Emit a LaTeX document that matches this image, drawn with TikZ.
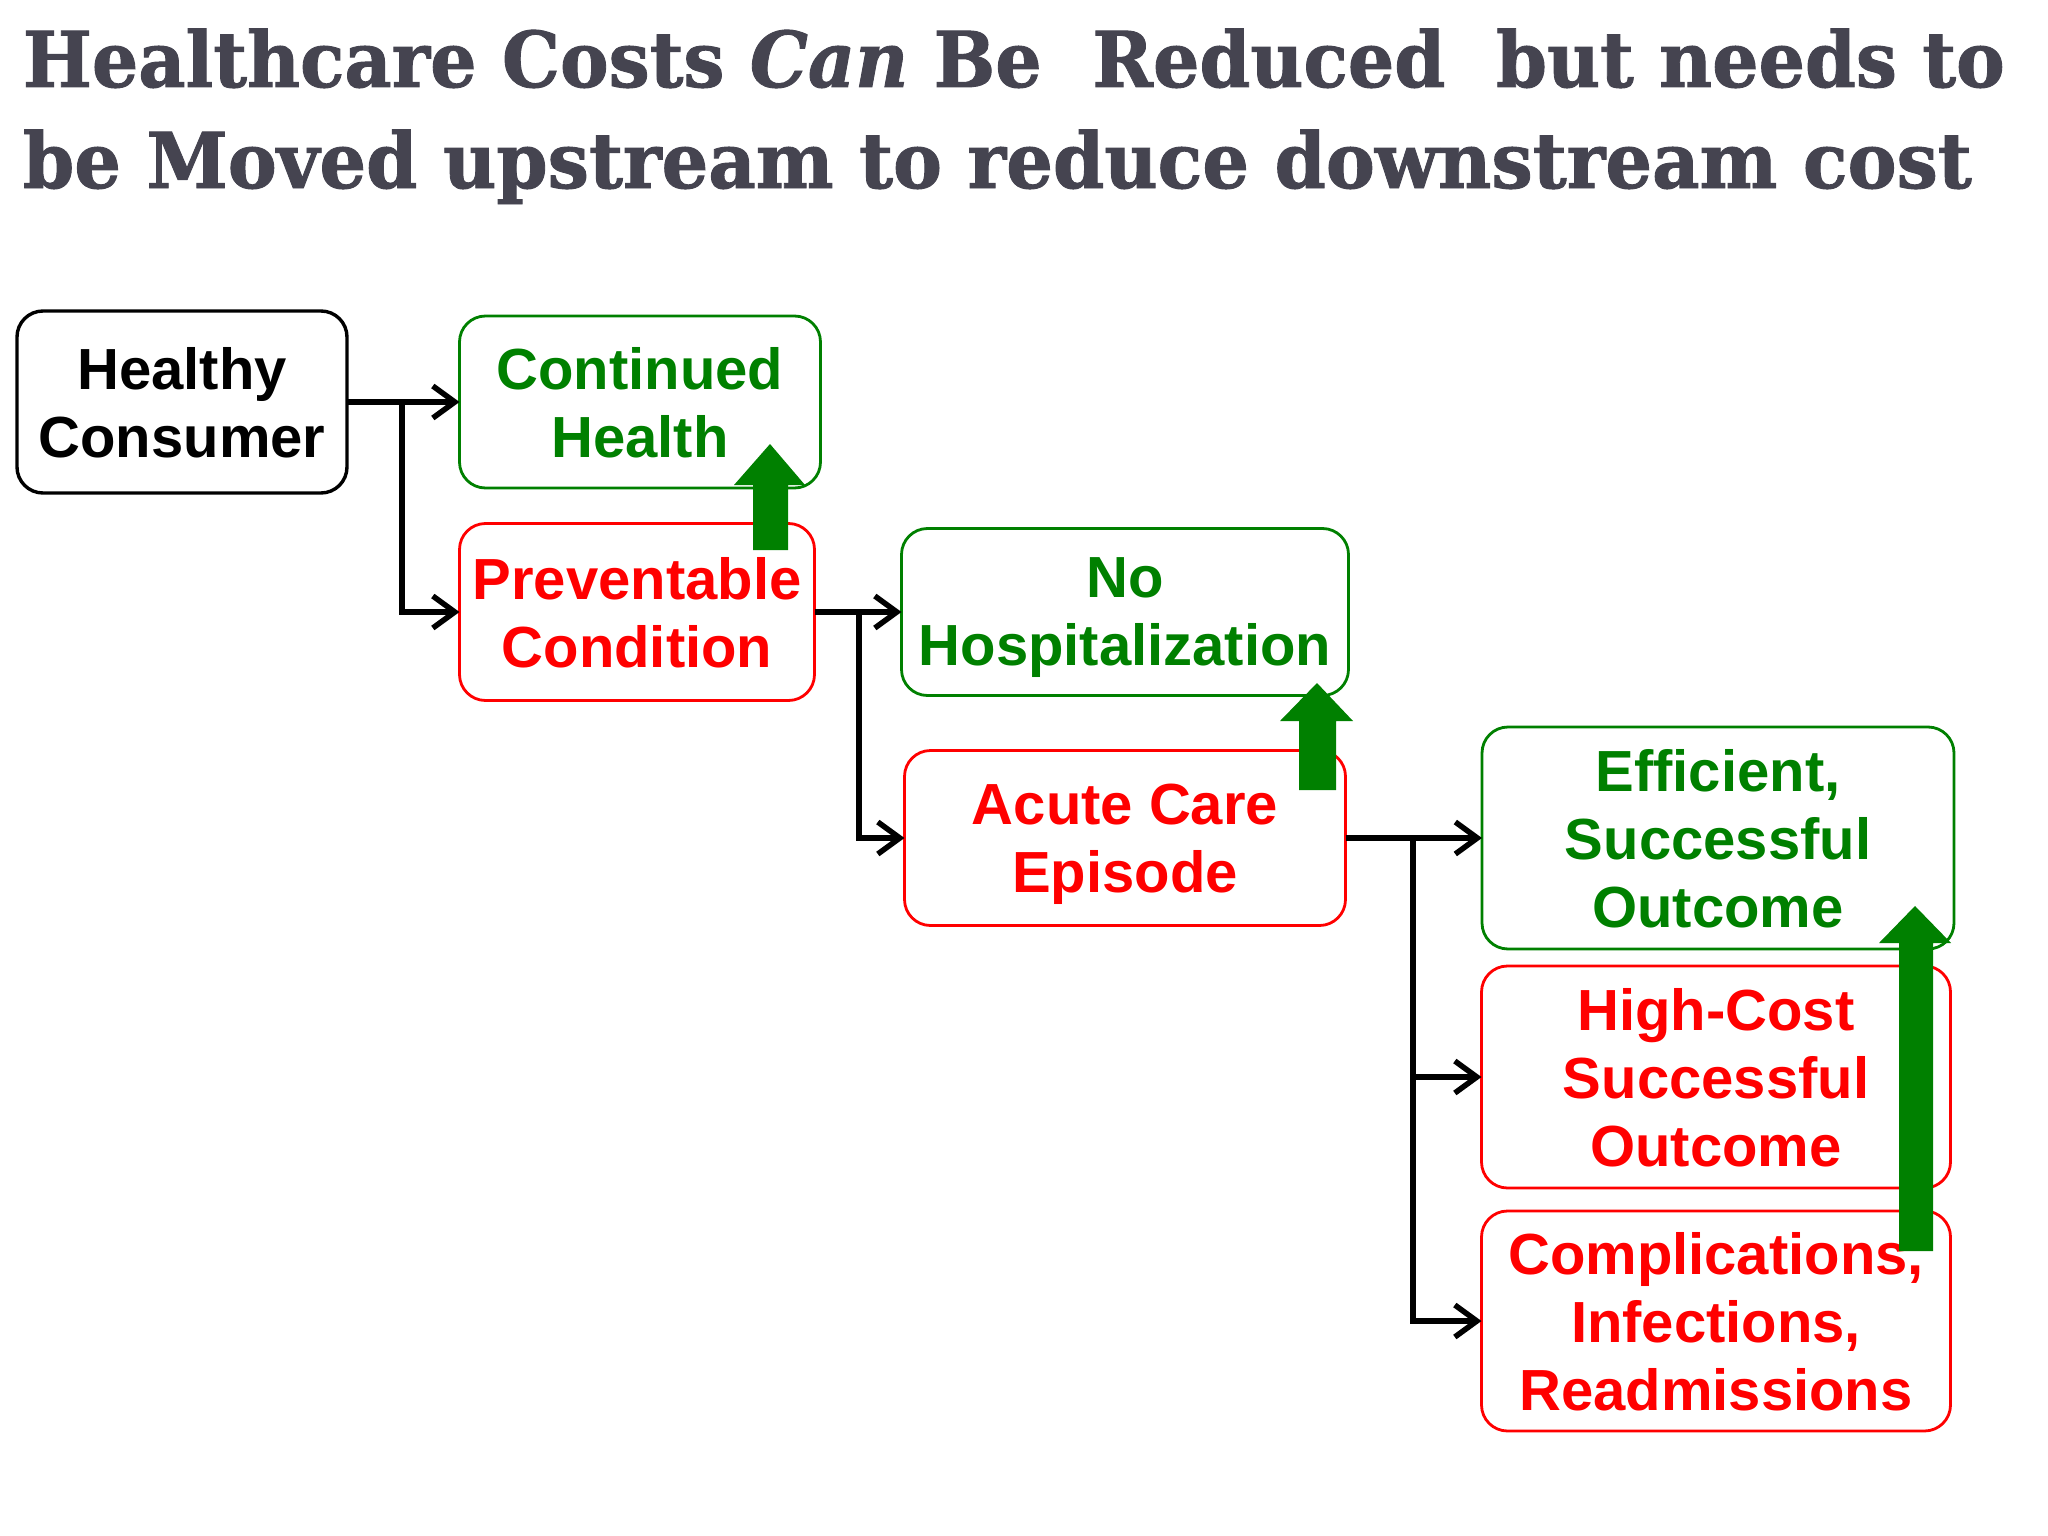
\documentclass[tikz,border=0pt]{standalone}
\usepackage{fontspec}
\usetikzlibrary{arrows.meta}
\setmainfont{Liberation Sans}
\newfontfamily\titlefont[BoldFeatures={FakeBold=1.2},BoldItalicFeatures={FakeBold=1.2}]{DejaVu Serif}
\definecolor{dgreen}{RGB}{0,128,0}
\definecolor{bred}{RGB}{255,0,0}
\definecolor{titlegray}{RGB}{69,68,80}
\newlength\tlena
\newlength\tlenb
\newcommand\tlineA{Healthcare Costs \textit{Can} Be\ \ Reduced\ \ but needs to}
\newcommand\tlineB{be Moved upstream to reduce downstream cost}
\begin{document}
\settowidth\tlena{\fontsize{77}{90}\selectfont\titlefont\bfseries\tlineA}%
\settowidth\tlenb{\fontsize{77}{90}\selectfont\titlefont\bfseries\tlineB}%
\pgfmathsetmacro\sxa{1982/\tlena}%
\pgfmathsetmacro\sxb{1949/\tlenb}%
\begin{tikzpicture}[x=1pt,y=-1pt,
  box/.style={rounded corners=26pt, draw, align=center, inner sep=0pt, outer sep=0pt,
    text depth=0pt, font=\fontsize{58}{68}\selectfont\bfseries},
  blackbox/.style={box, draw=black, line width=3.4pt, text=black},
  goodbox/.style={box, draw=dgreen, line width=2.8pt, text=dgreen},
  badbox/.style={box, draw=bred, line width=2.8pt, text=bred},
  conn/.style={draw=black, line width=6.2pt, line join=miter,
    -{Straight Barb[length=22pt,width=32pt,line width=5.5pt]}},
  uparrow/.style={fill=dgreen, draw=none},
  titletext/.style={anchor=base west, inner sep=0pt, outer sep=0pt, text=titlegray,
    font=\fontsize{77}{90}\selectfont\titlefont\bfseries}
]
\useasboundingbox[fill=white] (0,0) rectangle (2048,1536);

% title
\node[titletext] (title1) at (23,87) {\scalebox{\sxa}[1]{\tlineA}};
\node[titletext] (title2) at (23,188) {\scalebox{\sxb}[1]{\tlineB}};

% boxes
\node[blackbox, minimum width=330pt, minimum height=182pt] (hc) at (182,402) {Healthy\\Consumer};
\node[goodbox, minimum width=361pt, minimum height=172pt] (ch) at (640,402) {Continued\\Health};
\node[badbox, minimum width=355pt, minimum height=177pt] (pc) at (637,612) {Preventable\\Condition};
\node[goodbox, minimum width=447pt, minimum height=167pt] (nh) at (1125,612) {No\\Hospitalization};
\node[badbox, minimum width=441pt, minimum height=175pt] (ac) at (1125,838) {Acute Care\\Episode};
\node[goodbox, minimum width=472pt, minimum height=222pt] (ef) at (1718,838) {Efficient,\\Successful\\Outcome};
\node[badbox, minimum width=469pt, minimum height=222pt] (hcost) at (1716,1077) {High-Cost\\Successful\\Outcome};
\node[badbox, minimum width=469pt, minimum height=220pt] (comp) at (1716,1321) {Complications,\\Infections,\\Readmissions};

% junctions
\coordinate (j1) at (402,402);
\coordinate (j2) at (859,612);
\coordinate (j3) at (1413,838);

% connectors
\draw[conn] (hc.east) -- (ch.west);
\draw[conn] (j1) |- (pc.west);
\draw[conn] (pc.east) -- (nh.west);
\draw[conn] (j2) |- (ac.west);
\draw[conn] (ac.east) -- (ef.west);
\draw[conn] (j3) |- (hcost.west);
\draw[conn] (j3) |- (comp.west);

% green "move upstream" arrows
\fill[uparrow] (753,550) -- (753,485) -- (734,485) -- (770,444) -- (805,485) -- (788,485) -- (788,550) -- cycle;
\fill[uparrow] (1299,790) -- (1299,721) -- (1280,721) -- (1317,683) -- (1353,721) -- (1336,721) -- (1336,790) -- cycle;
\fill[uparrow] (1899,1251) -- (1899,943) -- (1879,943) -- (1915,906) -- (1951,943) -- (1933,943) -- (1933,1251) -- cycle;
\end{tikzpicture}
\end{document}
